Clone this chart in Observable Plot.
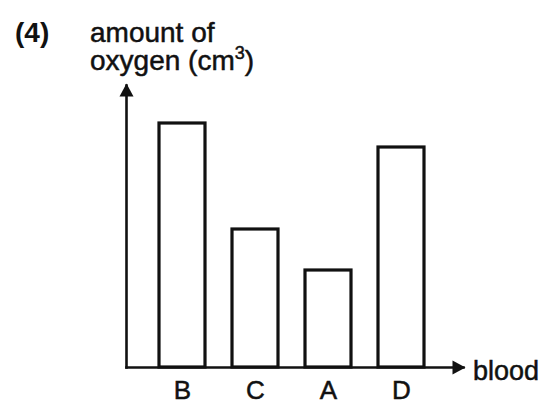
<!DOCTYPE html>
<html>
<head>
<meta charset="utf-8">
<script src="https://cdn.jsdelivr.net/npm/d3@7"></script>
<script src="https://cdn.jsdelivr.net/npm/@observablehq/plot@0.6"></script>
<style>
  html, body { margin: 0; padding: 0; background: #fff; }
  #wrap { position: relative; width: 550px; height: 405px; font-family: "Liberation Sans", Arial, sans-serif; color: #111; }
  .lbl { position: absolute; font-size: 28px; line-height: 28px; white-space: nowrap; -webkit-text-stroke: 0.5px #111; }
  .lbl sup { font-size: 18px; line-height: 0; vertical-align: 11px; }
  svg text { stroke: #111; stroke-width: 0.5px; }
</style>
</head>
<body>
<div id="wrap">
  <div class="lbl" style="left:15px; top:19px; font-weight:bold; -webkit-text-stroke:0;">(4)</div>
  <div class="lbl" style="left:90px; top:19px;">amount of<br>oxygen (cm<sup>3</sup>)</div>
  <div class="lbl" style="left:473px; top:357px; font-size:27px;">blood</div>
</div>
<script>
const categories = ["B", "C", "A", "D"];
const oxygen = [244, 138, 97, 220];
const data = categories.map((c, i) => ({blood: c, oxygen: oxygen[i]}));

const upArrow = {draw(ctx) { ctx.moveTo(0, -2); ctx.lineTo(7, 11); ctx.lineTo(-7, 11); ctx.closePath(); }};
const rightArrow = {draw(ctx) { ctx.moveTo(2, 0); ctx.lineTo(-11, -7); ctx.lineTo(-11, 7); ctx.closePath(); }};

const chart = Plot.plot({
  width: 550,
  height: 405,
  marginLeft: 126,
  marginRight: 87,
  marginTop: 85,
  marginBottom: 38,
  style: {fontFamily: "'Liberation Sans', Arial, sans-serif", background: "transparent", color: "#111"},
  x: {domain: categories, paddingInner: 0.37, paddingOuter: 0.487, align: 0.465, label: null},
  y: {domain: [0, 282], axis: null},
  marks: [
    Plot.barY(data, {x: "blood", y: "oxygen", fill: "white", stroke: "#111", strokeWidth: 3.2}),
    Plot.frame({anchor: "left", stroke: "#111", strokeWidth: 2.6}),
    Plot.frame({anchor: "bottom", stroke: "#111", strokeWidth: 2.6}),
    Plot.axisX({tickSize: 0, tickPadding: 13, fontSize: 26, label: null}),
    Plot.dot([0], {frameAnchor: "top-left", symbol: upArrow, fill: "#111", stroke: "none"}),
    Plot.dot([0], {frameAnchor: "bottom-right", symbol: rightArrow, fill: "#111", stroke: "none"})
  ]
});
chart.style.position = "absolute";
chart.style.left = "0";
chart.style.top = "0";
document.getElementById("wrap").prepend(chart);
</script>
</body>
</html>
